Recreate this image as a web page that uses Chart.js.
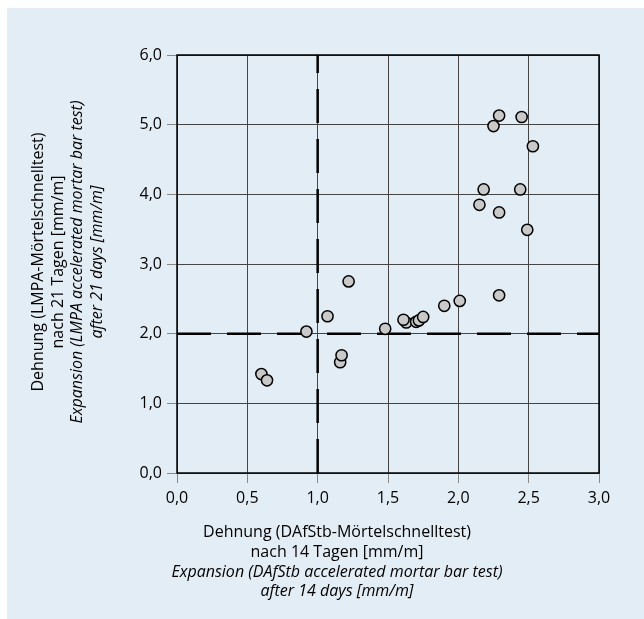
<!DOCTYPE html>
<html>
<head>
<meta charset="utf-8">
<script src="https://cdn.jsdelivr.net/npm/chart.js@4.4.1/dist/chart.umd.min.js"></script>
<style>
    html, body { margin: 0; padding: 0; background: #ffffff; }
    #panel {
        position: absolute;
        left: 7px;
        top: 8px;
        width: 637px;
        height: 611px;
        background: #e3edf6;
    }
    #expansionChart { display: block; }
</style>
</head>
<body>
<div id="panel">
    <canvas id="expansionChart" width="637" height="611"></canvas>
</div>
<script>
// Expansion after 14 days (DAfStb test) vs. after 21 days (LMPA test), mm/m
const dafstb14 = [0.60, 0.64, 0.92, 1.07, 1.16, 1.17, 1.22, 1.48, 1.63, 1.61, 1.70, 1.72, 1.75,
                  1.90, 2.01, 2.15, 2.18, 2.25, 2.29, 2.29, 2.29, 2.44, 2.45, 2.49, 2.53];
const lmpa21   = [1.42, 1.33, 2.03, 2.25, 1.59, 1.69, 2.75, 2.07, 2.16, 2.20, 2.17, 2.19, 2.24,
                  2.40, 2.47, 3.85, 4.07, 4.98, 5.13, 3.74, 2.55, 4.07, 5.11, 3.49, 4.69];

// Limit values (dashed lines)
const limitX = 1.0;
const limitY = 2.0;

const xTickLabels = ['0,0', '0,5', '1,0', '1,5', '2,0', '2,5', '3,0'];
const yTickLabels = ['0,0', '1,0', '2,0', '3,0', '4,0', '5,0', '6,0'];

const xTitle = ['Dehnung (DAfStb-Mörtelschnelltest)', 'nach 14 Tagen [mm/m]',
                'Expansion (DAfStb accelerated mortar bar test)', 'after 14 days [mm/m]'];
const yTitle = ['Dehnung (LMPA-Mörtelschnelltest)', 'nach 21 Tagen [mm/m]',
                'Expansion (LMPA accelerated mortar bar test)', 'after 21 days [mm/m]'];

const FONT = "'Open Sans', 'Noto Sans', sans-serif";

// frame round the plot area
const framePlugin = {
    id: 'frame',
    afterDatasetsDraw(chart) {
        const { ctx, chartArea: a } = chart;
        ctx.save();
        ctx.strokeStyle = '#000';
        ctx.lineWidth = 1.5;
        ctx.strokeRect(a.left, a.top, a.right - a.left, a.bottom - a.top);
        ctx.restore();
    }
};

// two-language axis titles, second pair in italics
const titlesPlugin = {
    id: 'axisTitles',
    afterDraw(chart) {
        const { ctx } = chart;
        ctx.save();
        ctx.fillStyle = '#000';
        ctx.textAlign = 'center';
        ctx.textBaseline = 'alphabetic';

        const xBase = [529, 549, 569, 588];
        xTitle.forEach((line, i) => {
            ctx.font = (i > 1 ? 'italic ' : '') + '16px ' + FONT;
            ctx.fillText(line, 330, xBase[i]);
        });

        const yBase = [36, 55.5, 75, 94.5];
        ctx.translate(0, 254);
        ctx.rotate(-Math.PI / 2);
        yTitle.forEach((line, i) => {
            ctx.font = (i > 1 ? 'italic ' : '') + '16px ' + FONT;
            ctx.fillText(line, 0, yBase[i]);
        });
        ctx.restore();
    }
};

const ctx = document.getElementById('expansionChart').getContext('2d');

new Chart(ctx, {
    type: 'scatter',
    data: {
        datasets: [
            {
                data: dafstb14.map((x, i) => ({ x: x, y: lmpa21[i] })),
                backgroundColor: '#c9c9c9',
                borderColor: '#000',
                borderWidth: 1.5,
                pointRadius: 5.6,
                pointHoverRadius: 5.6,
                order: 1
            },
            {
                type: 'line',
                data: [{ x: limitX, y: 0 }, { x: limitX, y: 6 }],
                borderColor: '#000',
                borderWidth: 2.5,
                borderDash: [34, 16],
                pointRadius: 0,
                order: 2
            },
            {
                type: 'line',
                data: [{ x: 0, y: limitY }, { x: 3, y: limitY }],
                borderColor: '#000',
                borderWidth: 2.5,
                borderDash: [34, 16],
                pointRadius: 0,
                order: 2
            }
        ]
    },
    options: {
        responsive: false,
        animation: false,
        devicePixelRatio: 1,
        layout: {
            padding: { left: 110, top: 47, right: 45, bottom: 106 }
        },
        plugins: {
            legend: { display: false },
            tooltip: { enabled: false }
        },
        scales: {
            x: {
                type: 'linear',
                min: 0,
                max: 3,
                afterFit(scale) { scale.height = 40; },
                grid: {
                    color: '#444',
                    lineWidth: 1,
                    tickColor: '#888',
                    tickLength: 10
                },
                border: { display: false },
                ticks: {
                    stepSize: 0.5,
                    color: '#000',
                    padding: 6,
                    font: { family: FONT, size: 16 },
                    callback: (v, i) => xTickLabels[i]
                }
            },
            y: {
                type: 'linear',
                min: 0,
                max: 6,
                afterFit(scale) { scale.width = 60; },
                grid: {
                    color: '#444',
                    lineWidth: 1,
                    tickColor: '#888',
                    tickLength: 10
                },
                border: { display: false },
                ticks: {
                    stepSize: 1,
                    color: '#000',
                    padding: 5,
                    font: { family: FONT, size: 16 },
                    callback: (v, i) => yTickLabels[i]
                }
            }
        }
    },
    plugins: [framePlugin, titlesPlugin]
});
</script>
</body>
</html>
